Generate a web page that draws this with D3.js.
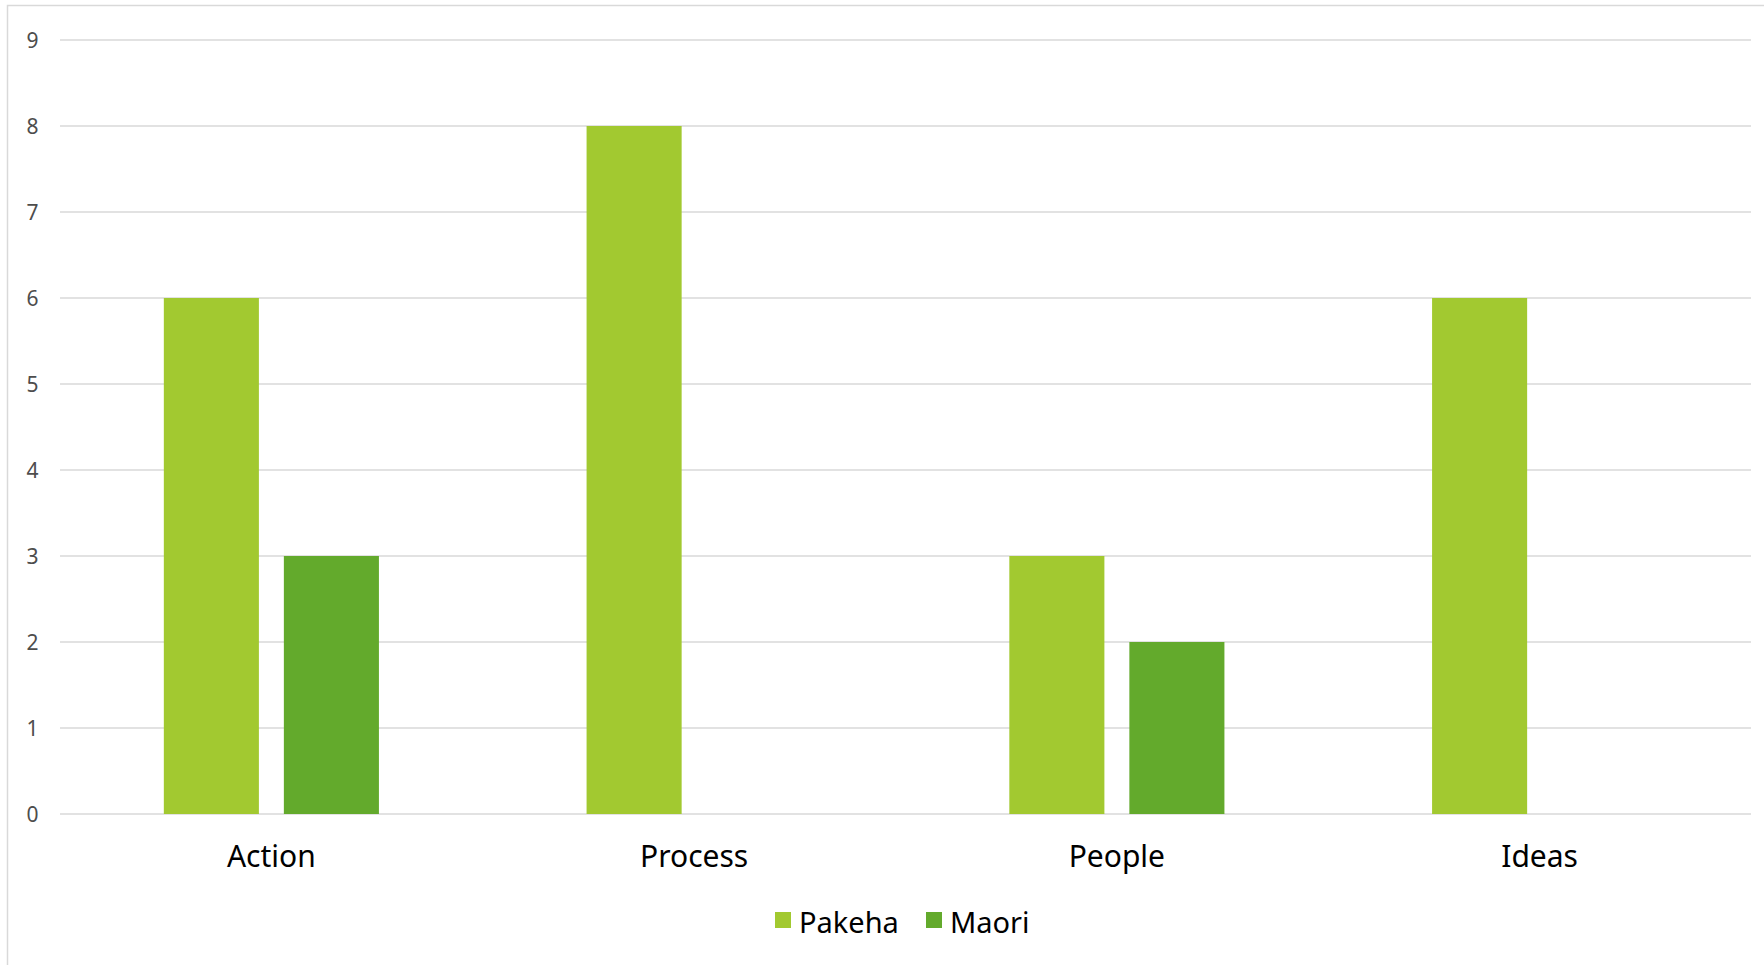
<!DOCTYPE html>
<html>
<head>
<meta charset="utf-8">
<script src="https://cdn.jsdelivr.net/npm/d3@7"></script>
<style>
  html, body { margin: 0; padding: 0; background: #fff; }
  text { font-family: "Noto Sans", "DejaVu Sans", sans-serif; }
</style>
</head>
<body>
<div id="chart"></div>
<script>
const categories = ["Action", "Process", "People", "Ideas"];
const seriesNames = ["Pakeha", "Maori"];
const pakeha = [6, 8, 3, 6];
const maori = [3, 0, 2, 0];
const yTicks = [0, 1, 2, 3, 4, 5, 6, 7, 8, 9];
const colors = ["#a2c930", "#63aa2c"];

const width = 1764, height = 965;
const margin = { top: 40, right: 13, bottom: 151, left: 60 };

const svg = d3.select("#chart")
    .append("svg")
    .attr("width", width)
    .attr("height", height);

// chart frame (runs off right and bottom edges)
svg.append("rect")
    .attr("x", 7.5)
    .attr("y", 5.5)
    .attr("width", width + 10)
    .attr("height", height + 10)
    .attr("fill", "none")
    .attr("stroke", "#d9d9d9")
    .attr("stroke-width", 1.5);

const x0 = d3.scaleBand()
    .domain(categories)
    .range([margin.left, width - margin.right])
    .padding(0);

const x1 = d3.scaleBand()
    .domain(seriesNames)
    .range([0, x0.bandwidth()])
    .paddingInner(0.208)
    .paddingOuter(0.865);

const y = d3.scaleLinear()
    .domain([0, 9])
    .range([height - margin.bottom, margin.top]);

// gridlines
svg.append("g")
    .selectAll("line")
    .data(yTicks)
    .join("line")
    .attr("x1", margin.left)
    .attr("x2", width - margin.right)
    .attr("y1", d => y(d))
    .attr("y2", d => y(d))
    .attr("stroke", "#d9d9d9")
    .attr("stroke-width", 1.5);

// y labels
svg.append("g")
    .selectAll("text")
    .data(yTicks)
    .join("text")
    .attr("x", 38.5)
    .attr("y", d => y(d) + 1)
    .attr("dy", "0.35em")
    .attr("text-anchor", "end")
    .attr("fill", "#4d4d4d")
    .style("font-size", "21px")
    .text(d => d);

const rows = categories.map((c, i) => ({ cat: c, vals: [pakeha[i], maori[i]] }));

const groups = svg.append("g")
    .selectAll("g")
    .data(rows)
    .join("g")
    .attr("transform", d => `translate(${x0(d.cat)},0)`);

groups.selectAll("rect")
    .data(d => d.vals.map((v, j) => ({ key: seriesNames[j], value: v, j })))
    .join("rect")
    .attr("x", d => x1(d.key))
    .attr("width", x1.bandwidth())
    .attr("y", d => y(d.value))
    .attr("height", d => y(0) - y(d.value))
    .attr("fill", d => colors[d.j]);

// category labels
svg.append("g")
    .selectAll("text")
    .data(categories)
    .join("text")
    .attr("x", d => x0(d) + x0.bandwidth() / 2)
    .attr("y", 856)
    .attr("dy", "0.35em")
    .attr("text-anchor", "middle")
    .attr("fill", "#000")
    .style("font-size", "30px")
    .text(d => d);

// legend
const legendX = [775, 926];
const legend = svg.append("g")
    .selectAll("g")
    .data(seriesNames)
    .join("g")
    .attr("transform", (d, i) => `translate(${legendX[i]},922)`);

legend.append("rect")
    .attr("x", 0)
    .attr("y", -10)
    .attr("width", 16)
    .attr("height", 16)
    .attr("fill", (d, i) => colors[i]);

legend.append("text")
    .attr("x", 24)
    .attr("y", 1)
    .attr("dy", "0.35em")
    .attr("fill", "#000")
    .style("font-size", "29px")
    .text(d => d);
</script>
</body>
</html>
